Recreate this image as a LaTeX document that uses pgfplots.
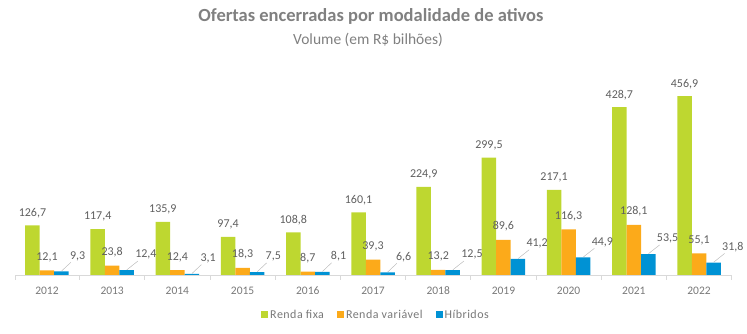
\documentclass[border=0pt]{standalone}
\usepackage{pgfplots}
\pgfplotsset{compat=1.18}
\usepackage{fontspec}
\setmainfont{Carlito}
\newfontfamily\legfont[LetterSpace=4]{Carlito}
\definecolor{cgreen}{RGB}{190,215,48}
\definecolor{corange}{RGB}{252,170,26}
\definecolor{cblue}{RGB}{0,146,212}
\definecolor{titlegray}{RGB}{128,128,128}
\definecolor{ticgray}{RGB}{120,120,120}
\definecolor{labgray}{RGB}{95,95,95}
\definecolor{axgray}{RGB}{217,217,217}
\begin{document}
\begin{tikzpicture}
\path[use as bounding box] (0pt,0pt) rectangle (747pt,334pt);
\node[font=\fontsize{18.5}{22}\selectfont\bfseries, text=titlegray] at (371pt,318pt) {Ofertas encerradas por modalidade de ativos};
\node[font=\fontsize{15.5}{18}\selectfont, text=titlegray] at (368pt,294pt) {Volume (em R\$ bilhões)};
\begin{axis}[
  at={(15pt,59pt)}, anchor=south west,
  scale only axis, width=716pt, height=195pt,
  ybar=0pt, bar width=14.5pt,
  xmin=-0.49, xmax=10.49, ymin=0, ymax=498,
  axis y line=none,
  axis x line*=bottom,
  x axis line style={draw=axgray, line width=0.8pt, -},
  xtick={0,...,10},
  xticklabels={2012,2013,2014,2015,2016,2017,2018,2019,2020,2021,2022},
  major x tick style={draw=none},
  minor xtick={-0.49,0.5,1.5,2.5,3.5,4.5,5.5,6.5,7.5,8.5,9.5,10.49},
  minor x tick style={draw=axgray, line width=0.8pt},
  minor tick length=5pt,
  tick align=outside,
  xticklabel style={font=\fontsize{11.5}{13}\selectfont, text=ticgray, anchor=north, text height=8pt, text depth=0pt, yshift=-4pt},
  /pgf/number format/.cd, use comma, fixed, fixed zerofill, precision=1, assume math mode=true,
  /pgfplots/.cd,
  clip=false,
  legend style={at={(0.5,0)}, anchor=center, yshift=-40pt, xshift=3pt, draw=none, fill=none,
    font=\legfont\fontsize{12}{14}\selectfont, text=ticgray, legend columns=3,
    /tikz/every even column/.append style={column sep=11pt}},
  legend image code/.code={\fill[#1] (0pt,-3.5pt) rectangle (7pt,3.5pt);},
  every node near coord/.append style={font=\fontsize{12}{14}\selectfont, text=labgray},
]
\addplot[fill=cgreen, draw=none, nodes near coords, every node near coord/.append style={yshift=4pt}]
  coordinates {(0,126.7) (1,117.4) (2,135.9) (3,97.4) (4,108.8) (5,160.1) (6,224.9) (7,299.5) (8,217.1) (9,428.7) (10,456.9)};
\addplot[fill=corange, draw=none, nodes near coords, every node near coord/.append style={yshift=5pt}]
  coordinates {(0,12.1) (1,23.8) (2,12.4) (3,18.3) (4,8.7) (5,39.3) (6,13.2) (7,89.6) (8,116.3) (9,128.1) (10,55.1)};
\addplot[fill=cblue, draw=none, nodes near coords={},
  every node near coord/.append style={inner sep=0pt, minimum size=0pt, anchor=south,
    pin={[pin distance=11pt, pin edge={draw=gray!45, thin}, font=\fontsize{12}{14}\selectfont, text=labgray, inner sep=1.5pt]52:{\pgfmathprintnumber{\pgfplotspointmeta}}}}]
  coordinates {(0,9.3) (1,12.4) (2,3.1) (3,7.5) (4,8.1) (5,6.6) (6,12.5) (7,41.2) (8,44.9) (9,53.5) (10,31.8)};
\legend{Renda fixa, Renda variável, Híbridos}
\end{axis}
\end{tikzpicture}
\end{document}
